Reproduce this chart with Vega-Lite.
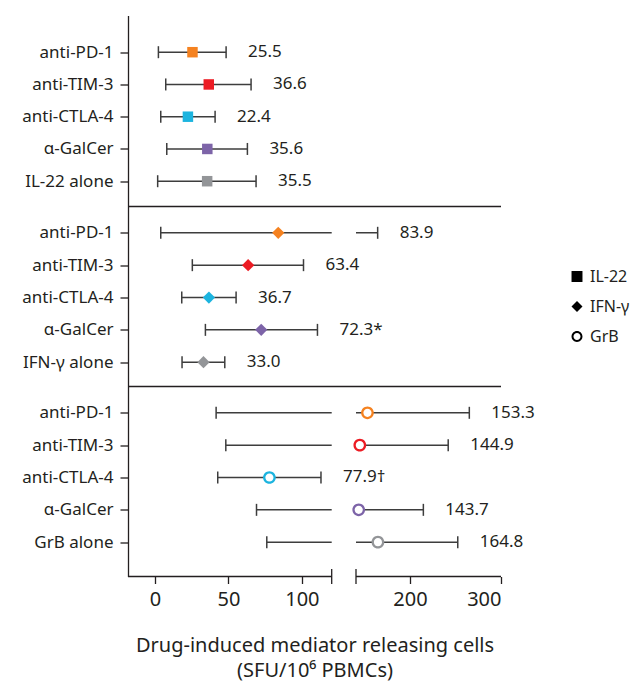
{
  "$schema": "https://vega.github.io/schema/vega-lite/v6.json",
  "background": "white",
  "padding": {"left": 21, "top": 15.5, "right": 0, "bottom": 5},
  "bounds": "flush",
  "spacing": 0,
  "config": {
    "font": "Noto Sans",
    "view": {"stroke": null},
    "axis": {"grid": false, "labelColor": "#231f20", "domainColor": "#231f20", "tickColor": "#231f20", "domainWidth": 1.3, "tickWidth": 1.3, "titleColor": "#231f20"}
  },
  "data": {"values": [
    {"group": "IL-22", "label": "anti-PD-1", "value": 25.5, "low": 2.3, "high": 48.4, "color": "#F58220", "text": "25.5"},
    {"group": "IL-22", "label": "anti-TIM-3", "value": 36.6, "low": 7.3, "high": 65.4, "color": "#EC1C24", "text": "36.6"},
    {"group": "IL-22", "label": "anti-CTLA-4", "value": 22.4, "low": 3.9, "high": 40.9, "color": "#1CB4DF", "text": "22.4"},
    {"group": "IL-22", "label": "α-GalCer", "value": 35.6, "low": 8.0, "high": 62.9, "color": "#7D64A8", "text": "35.6"},
    {"group": "IL-22", "label": "IL-22 alone", "value": 35.5, "low": 1.8, "high": 68.8, "color": "#939598", "text": "35.5"},
    {"group": "IFN-γ", "label": "anti-PD-1", "value": 83.9, "low": 3.9, "high": 164.5, "color": "#F58220", "text": "83.9"},
    {"group": "IFN-γ", "label": "anti-TIM-3", "value": 63.4, "low": 25.4, "high": 101.1, "color": "#EC1C24", "text": "63.4"},
    {"group": "IFN-γ", "label": "anti-CTLA-4", "value": 36.7, "low": 18.2, "high": 55.2, "color": "#1CB4DF", "text": "36.7"},
    {"group": "IFN-γ", "label": "α-GalCer", "value": 72.3, "low": 34.3, "high": 110.6, "color": "#7D64A8", "text": "72.3*"},
    {"group": "IFN-γ", "label": "IFN-γ alone", "value": 33.0, "low": 18.4, "high": 47.5, "color": "#939598", "text": "33.0"},
    {"group": "GrB", "label": "anti-PD-1", "value": 153.3, "low": 41.6, "high": 265.2, "color": "#F58220", "text": "153.3"},
    {"group": "GrB", "label": "anti-TIM-3", "value": 144.9, "low": 48.2, "high": 242.0, "color": "#EC1C24", "text": "144.9"},
    {"group": "GrB", "label": "anti-CTLA-4", "value": 77.9, "low": 42.7, "high": 113.0, "color": "#1CB4DF", "text": "77.9†"},
    {"group": "GrB", "label": "α-GalCer", "value": 143.7, "low": 69.1, "high": 214.7, "color": "#7D64A8", "text": "143.7"},
    {"group": "GrB", "label": "GrB alone", "value": 164.8, "low": 76.1, "high": 252.5, "color": "#939598", "text": "164.8"}
  ]},
  "resolve": {"scale": {"shape": "shared"}},
  "vconcat": [
    {
      "width": 373, "height": 191,
      "transform": [{"filter": "datum.group === 'IL-22'"}],
      "layer": [
        {"mark": {"type": "rule", "stroke": "#3d3d3d", "strokeWidth": 1.5},
         "encoding": {
           "y": {"field": "label", "type": "nominal", "sort": null, "scale": {"type": "point", "padding": 0.961, "align": 0.592}, "axis": {"title": null, "labelFontSize": 17, "tickSize": 8, "labelPadding": 7}},
           "x": {"field": "low", "type": "quantitative", "scale": {"domain": [-18.4, 120.3, 140.7, 300], "range": [0, 203.7, 228, 373], "nice": false, "zero": false}, "axis": null},
           "x2": {"field": "high"}}},
        {"mark": {"type": "tick", "orient": "vertical", "size": 12, "thickness": 1.5, "color": "#3d3d3d", "opacity": 1},
         "encoding": {"y": {"field": "label", "type": "nominal", "sort": null}, "x": {"field": "low", "type": "quantitative"}}},
        {"mark": {"type": "tick", "orient": "vertical", "size": 12, "thickness": 1.5, "color": "#3d3d3d", "opacity": 1},
         "encoding": {"y": {"field": "label", "type": "nominal", "sort": null}, "x": {"field": "high", "type": "quantitative"}}},
        {"data": {"values": [{}]}, "mark": {"type": "rect", "color": "white"},
         "encoding": {"x": {"datum": 120.3, "type": "quantitative"}, "x2": {"datum": 140.7}}},
        {"mark": {"type": "point", "filled": true, "opacity": 1, "size": 110, "strokeWidth": 0},
         "encoding": {
           "y": {"field": "label", "type": "nominal", "sort": null},
           "x": {"field": "value", "type": "quantitative"},
           "fill": {"field": "color", "type": "nominal", "scale": null},
           "shape": {"field": "group", "type": "nominal",
             "scale": {"domain": ["IL-22", "IFN-γ", "GrB"], "range": ["square", "diamond", "M-1,0A1,1,0,1,1,1,0A1,1,0,1,1,-1,0ZM-0.64,0A0.64,0.64,0,1,0,0.64,0A0.64,0.64,0,1,0,-0.64,0Z"]},
             "legend": {"title": null, "orient": "none", "legendX": 441, "legendY": 253, "symbolFillColor": "black", "symbolStrokeWidth": 0, "symbolOpacity": 1, "symbolSize": 120, "labelFontSize": 16, "labelColor": "#231f20", "labelOffset": 5, "rowPadding": 14}}}},
        {"mark": {"type": "text", "align": "left", "baseline": "middle", "dx": 22, "fontSize": 17, "color": "#231f20"},
         "encoding": {"y": {"field": "label", "type": "nominal", "sort": null}, "x": {"field": "high", "type": "quantitative"}, "text": {"field": "text"}}}
      ]
    },
    {
      "width": 373, "height": 180,
      "transform": [{"filter": "datum.group === 'IFN-γ'"}],
      "layer": [
        {"mark": {"type": "rule", "stroke": "#3d3d3d", "strokeWidth": 1.5},
         "encoding": {
           "y": {"field": "label", "type": "nominal", "sort": null, "scale": {"type": "point", "padding": 0.782, "align": 0.52}, "axis": {"title": null, "labelFontSize": 17, "tickSize": 8, "labelPadding": 7}},
           "x": {"field": "low", "type": "quantitative", "scale": {"domain": [-18.4, 120.3, 140.7, 300], "range": [0, 203.7, 228, 373], "nice": false, "zero": false}, "axis": null},
           "x2": {"field": "high"}}},
        {"mark": {"type": "tick", "orient": "vertical", "size": 12, "thickness": 1.5, "color": "#3d3d3d", "opacity": 1},
         "encoding": {"y": {"field": "label", "type": "nominal", "sort": null}, "x": {"field": "low", "type": "quantitative"}}},
        {"mark": {"type": "tick", "orient": "vertical", "size": 12, "thickness": 1.5, "color": "#3d3d3d", "opacity": 1},
         "encoding": {"y": {"field": "label", "type": "nominal", "sort": null}, "x": {"field": "high", "type": "quantitative"}}},
        {"data": {"values": [{}]}, "mark": {"type": "rect", "color": "white"},
         "encoding": {"x": {"datum": 120.3, "type": "quantitative"}, "x2": {"datum": 140.7}}},
        {"data": {"values": [{}]}, "mark": {"type": "rule", "color": "#231f20", "strokeWidth": 1.3},
         "encoding": {"x": {"datum": -18.4, "type": "quantitative"}, "x2": {"datum": 300}, "y": {"value": 0}}},
        {"mark": {"type": "point", "filled": true, "opacity": 1, "size": 150, "strokeWidth": 0},
         "encoding": {
           "y": {"field": "label", "type": "nominal", "sort": null},
           "x": {"field": "value", "type": "quantitative"},
           "fill": {"field": "color", "type": "nominal", "scale": null},
           "shape": {"field": "group", "type": "nominal",
             "scale": {"domain": ["IL-22", "IFN-γ", "GrB"], "range": ["square", "diamond", "M-1,0A1,1,0,1,1,1,0A1,1,0,1,1,-1,0ZM-0.64,0A0.64,0.64,0,1,0,0.64,0A0.64,0.64,0,1,0,-0.64,0Z"]}}}},
        {"mark": {"type": "text", "align": "left", "baseline": "middle", "dx": 22, "fontSize": 17, "color": "#231f20"},
         "encoding": {"y": {"field": "label", "type": "nominal", "sort": null}, "x": {"field": "high", "type": "quantitative"}, "text": {"field": "text"}}}
      ]
    },
    {
      "width": 373, "height": 190,
      "transform": [{"filter": "datum.group === 'GrB'"}],
      "layer": [
        {"mark": {"type": "rule", "stroke": "#3d3d3d", "strokeWidth": 1.5},
         "encoding": {
           "y": {"field": "label", "type": "nominal", "sort": null, "scale": {"type": "point", "padding": 0.937, "align": 0.434}, "axis": {"title": null, "labelFontSize": 17, "tickSize": 8, "labelPadding": 7}},
           "x": {"field": "low", "type": "quantitative", "scale": {"domain": [-18.4, 120.3, 140.7, 300], "range": [0, 203.7, 228, 373], "nice": false, "zero": false},
             "axis": {"domain": false, "ticks": true, "tickSize": 7, "values": [0, 50, 100, 200, 300], "labelFontSize": 20, "labelPadding": 6, "title": ["Drug-induced mediator releasing cells", "(SFU/10⁶ PBMCs)"], "titleFontSize": 20, "titleFontWeight": "normal", "titlePadding": 26, "titleLineHeight": 25}},
           "x2": {"field": "high"}}},
        {"mark": {"type": "tick", "orient": "vertical", "size": 12, "thickness": 1.5, "color": "#3d3d3d", "opacity": 1},
         "encoding": {"y": {"field": "label", "type": "nominal", "sort": null}, "x": {"field": "low", "type": "quantitative"}}},
        {"mark": {"type": "tick", "orient": "vertical", "size": 12, "thickness": 1.5, "color": "#3d3d3d", "opacity": 1},
         "encoding": {"y": {"field": "label", "type": "nominal", "sort": null}, "x": {"field": "high", "type": "quantitative"}}},
        {"data": {"values": [{}]}, "mark": {"type": "rect", "color": "white"},
         "encoding": {"x": {"datum": 120.3, "type": "quantitative"}, "x2": {"datum": 140.7}}},
        {"data": {"values": [{}]}, "mark": {"type": "rule", "color": "#231f20", "strokeWidth": 1.3},
         "encoding": {"x": {"datum": -18.4, "type": "quantitative"}, "x2": {"datum": 300}, "y": {"value": 0}}},
        {"data": {"values": [{}]}, "mark": {"type": "rule", "color": "#231f20", "strokeWidth": 1.3},
         "encoding": {"x": {"datum": -18.4, "type": "quantitative"}, "x2": {"datum": 120.3}, "y": {"value": "height"}}},
        {"data": {"values": [{}]}, "mark": {"type": "rule", "color": "#231f20", "strokeWidth": 1.3},
         "encoding": {"x": {"datum": 140.7, "type": "quantitative"}, "x2": {"datum": 300}, "y": {"value": "height"}}},
        {"data": {"values": [{}]}, "mark": {"type": "tick", "orient": "vertical", "size": 15, "thickness": 1.3, "color": "#231f20", "opacity": 1},
         "encoding": {"x": {"datum": 120.3, "type": "quantitative"}, "y": {"value": "height"}}},
        {"data": {"values": [{}]}, "mark": {"type": "tick", "orient": "vertical", "size": 15, "thickness": 1.3, "color": "#231f20", "opacity": 1},
         "encoding": {"x": {"datum": 140.7, "type": "quantitative"}, "y": {"value": "height"}}},
        {"mark": {"type": "point", "shape": "circle", "filled": true, "color": "white", "opacity": 1, "size": 110, "strokeWidth": 0},
         "encoding": {"y": {"field": "label", "type": "nominal", "sort": null}, "x": {"field": "value", "type": "quantitative"}}},
        {"mark": {"type": "point", "filled": true, "opacity": 1, "size": 162, "strokeWidth": 0},
         "encoding": {
           "y": {"field": "label", "type": "nominal", "sort": null},
           "x": {"field": "value", "type": "quantitative"},
           "fill": {"field": "color", "type": "nominal", "scale": null},
           "shape": {"field": "group", "type": "nominal",
             "scale": {"domain": ["IL-22", "IFN-γ", "GrB"], "range": ["square", "diamond", "M-1,0A1,1,0,1,1,1,0A1,1,0,1,1,-1,0ZM-0.64,0A0.64,0.64,0,1,0,0.64,0A0.64,0.64,0,1,0,-0.64,0Z"]}}}},
        {"mark": {"type": "text", "align": "left", "baseline": "middle", "dx": 22, "fontSize": 17, "color": "#231f20"},
         "encoding": {"y": {"field": "label", "type": "nominal", "sort": null}, "x": {"field": "high", "type": "quantitative"}, "text": {"field": "text"}}}
      ]
    }
  ]
}
